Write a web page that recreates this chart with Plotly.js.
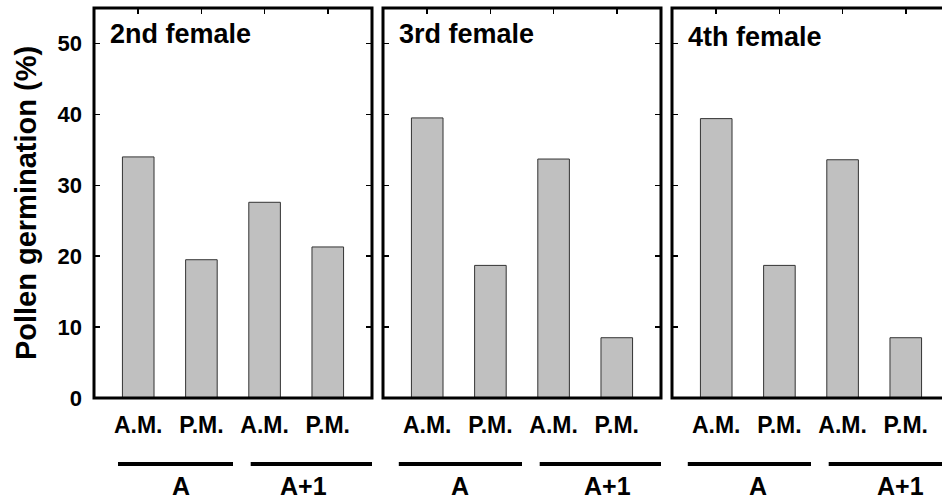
<!DOCTYPE html>
<html>
<head>
<meta charset="utf-8">
<script src="https://cdn.plot.ly/plotly-3.0.1.min.js"></script>
<style>
  html, body { margin: 0; padding: 0; overflow: hidden; background: #fff; }
  #chart { width: 960px; height: 501px; }
</style>
</head>
<body>
<div id="chart"></div>
<script>
// ---- data ----
const timeLabels = ['A.M.', 'P.M.', 'A.M.', 'P.M.'];
const positions = [0, 1, 2, 3];
const panelTitles = ['2nd female', '3rd female', '4th female'];
const groupLabels = ['A', 'A+1'];
const female2 = [34.0, 19.5, 27.6, 21.3];
const female3 = [39.5, 18.7, 33.7, 8.5];
const female4 = [39.4, 18.7, 33.6, 8.5];
const yTicks = [0, 10, 20, 30, 40, 50];

const series = [female2, female3, female4];
const FONT = 'Liberation Sans, Arial, Helvetica, sans-serif';

const W = 960, H = 501;
const mL = 94, mR = 10, mT = 8, mB = 103;
const plotW = W - mL - mR;
const pxDom = [[94, 372], [383, 661], [672, 950]];
const pxY = p => (H - mB - p) / (H - mT - mB);

const traces = series.map((vals, i) => ({
  type: 'bar',
  x: positions,
  y: vals,
  xaxis: i === 0 ? 'x' : 'x' + (i + 1),
  yaxis: i === 0 ? 'y' : 'y' + (i + 1),
  width: 0.5,
  marker: { color: '#c0c0c0', line: { color: '#333333', width: 1 } },
  hoverinfo: 'skip',
  showlegend: false
}));

const layout = {
  width: W, height: H,
  margin: { l: mL, r: mR, t: mT, b: mB },
  paper_bgcolor: '#ffffff',
  plot_bgcolor: '#ffffff',
  font: { family: FONT, color: '#000' },
  bargap: 0,
  shapes: [],
  annotations: []
};

const grpLines = [
  [[-0.32, 1.5], [1.78, 3.72]],
  [[-0.45, 1.5], [1.78, 3.72]],
  [[-0.45, 1.5], [1.78, 3.72]]
];
const grpLabelX = [
  [0.68, 2.62],
  [0.52, 2.86],
  [0.66, 2.92]
];

for (let i = 0; i < 3; i++) {
  const xa = i === 0 ? 'xaxis' : 'xaxis' + (i + 1);
  const ya = i === 0 ? 'yaxis' : 'yaxis' + (i + 1);
  const xr = i === 0 ? 'x' : 'x' + (i + 1);
  const yr = i === 0 ? 'y' : 'y' + (i + 1);
  layout[xa] = {
    domain: [(pxDom[i][0] - mL) / plotW, (pxDom[i][1] - mL) / plotW],
    anchor: yr,
    range: [-0.7, 3.7],
    tickvals: positions,
    ticktext: timeLabels,
    ticks: 'inside', ticklen: 6, tickwidth: 1.5, tickcolor: '#000',
    mirror: 'ticks',
    showline: false, showgrid: false, zeroline: false,
    layer: 'below traces',
    ticklabelstandoff: 11,
    tickfont: { family: FONT, size: 23, weight: 700, color: '#000' },
    fixedrange: true
  };
  layout[ya] = {
    domain: [0, 1],
    anchor: xr,
    range: [0, 55],
    tickvals: yTicks,
    ticks: 'inside', ticklen: 6, tickwidth: 1.5, tickcolor: '#000',
    mirror: 'ticks',
    showline: false, showgrid: false, zeroline: false,
    showticklabels: i === 0,
    ticklabelstandoff: 11,
    tickfont: { family: FONT, size: 22, weight: 700, color: '#000' },
    fixedrange: true
  };
  if (i === 0) {
    layout[ya].title = {
      text: 'Pollen germination (%)',
      font: { family: FONT, size: 29, weight: 700, color: '#000' },
      standoff: 12
    };
  }
  // frame
  layout.shapes.push({
    type: 'rect', xref: xr + ' domain', yref: yr + ' domain',
    x0: 0, x1: 1, y0: 0, y1: 1,
    line: { color: '#000', width: 3 }, layer: 'above'
  });
  // panel title
  layout.annotations.push({
    text: panelTitles[i], xref: xr + ' domain', yref: 'paper',
    x: 14 / 278, y: pxY(i === 2 ? 20 : 17), xanchor: 'left', yanchor: 'top',
    showarrow: false,
    font: { family: FONT, size: 27, weight: 700, color: '#000' }
  });
  // group lines and labels
  for (let g = 0; g < 2; g++) {
    const [a, b] = grpLines[i][g];
    layout.shapes.push({
      type: 'line', xref: xr, yref: 'paper',
      x0: a, x1: b, y0: pxY(464), y1: pxY(464),
      line: { color: '#000', width: 4 }
    });
    layout.annotations.push({
      text: groupLabels[g], xref: xr, yref: 'paper',
      x: grpLabelX[i][g], y: pxY(470), xanchor: 'center', yanchor: 'top',
      showarrow: false,
      font: { family: FONT, size: 25, weight: 700, color: '#000' }
    });
  }
}

Plotly.newPlot('chart', traces, layout, { displayModeBar: false, staticPlot: true });
</script>
</body>
</html>
